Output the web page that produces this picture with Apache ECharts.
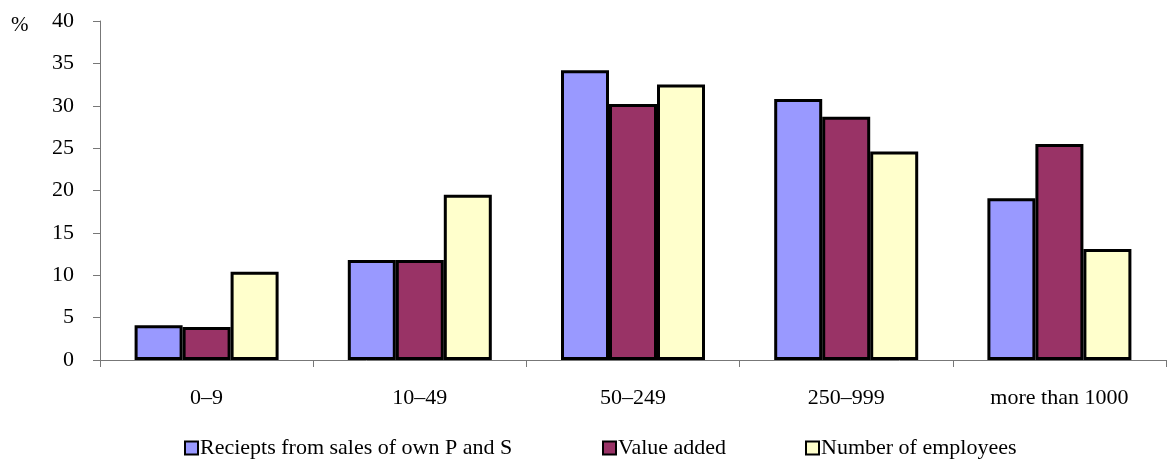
<!DOCTYPE html>
<html>
<head>
<meta charset="utf-8">
<script src="https://cdn.jsdelivr.net/npm/echarts@6/dist/echarts.min.js"></script>
<style>
  html, body { margin: 0; padding: 0; background: #fff; }
  #chart { width: 1168px; height: 460px; }
</style>
</head>
<body>
<div id="chart"></div>
<script>
// Enterprise size groups (number of employees)
const categories = ['0–9', '10–49', '50–249', '250–999', 'more than 1000'];

// Shares in %
const receipts   = [4.1, 11.8, 34.2, 30.8, 19.1];
const valueAdded = [3.9, 11.8, 30.2, 28.7, 25.5];
const employees  = [10.4, 19.5, 32.5, 24.6, 13.1];

const seriesNames = ['Reciepts from sales of own P and S', 'Value added', 'Number of employees'];
const seriesColors = ['#9999FF', '#993366', '#FFFFCC'];
const seriesValues = [receipts, valueAdded, employees];

const yTicks = { min: 0, max: 40, interval: 5 };

const font = '"Liberation Serif", "Times New Roman", serif';
const chart = echarts.init(document.getElementById('chart'), null, { renderer: 'canvas' });

// one legend block per series, spread along the bottom
const legendLefts = [184, 602, 805];

chart.setOption({
  animation: false,
  backgroundColor: '#ffffff',
  grid: { left: 100, right: 2, top: 21, bottom: 100 },
  graphic: [{
    type: 'text', left: 11, top: 15,
    style: { text: '%', font: '21px ' + font, fill: '#000' }
  }],
  legend: seriesNames.map((name, i) => ({
    data: [name],
    left: legendLefts[i],
    top: 437,
    padding: 0,
    icon: 'rect',
    itemWidth: 13,
    itemHeight: 13,
    itemGap: 0,
    itemStyle: { borderColor: '#000', borderWidth: 2 },
    textStyle: { fontFamily: font, fontSize: 22, color: '#000', padding: [0, 0, 0, -3] },
    selectedMode: false
  })),
  xAxis: {
    type: 'category',
    data: categories,
    axisLine: { lineStyle: { color: '#777', width: 1 } },
    axisTick: { show: true, length: 7, lineStyle: { color: '#777' }, alignWithLabel: false },
    axisLabel: { fontFamily: font, fontSize: 22, color: '#000', margin: 27 },
    splitLine: { show: false }
  },
  yAxis: {
    type: 'value',
    min: yTicks.min, max: yTicks.max, interval: yTicks.interval,
    axisLine: { show: true, lineStyle: { color: '#777', width: 1 } },
    axisTick: { show: true, length: 7, lineStyle: { color: '#777' } },
    axisLabel: { fontFamily: font, fontSize: 22, color: '#000', margin: 26, padding: [4, 0, 0, 0] },
    splitLine: { show: false }
  },
  series: seriesNames.map((name, i) => ({
    name: name,
    type: 'bar',
    data: seriesValues[i],
    barWidth: 48,
    barGap: '0%',
    itemStyle: { color: seriesColors[i], borderColor: '#000', borderWidth: 3 }
  }))
});
</script>
</body>
</html>
